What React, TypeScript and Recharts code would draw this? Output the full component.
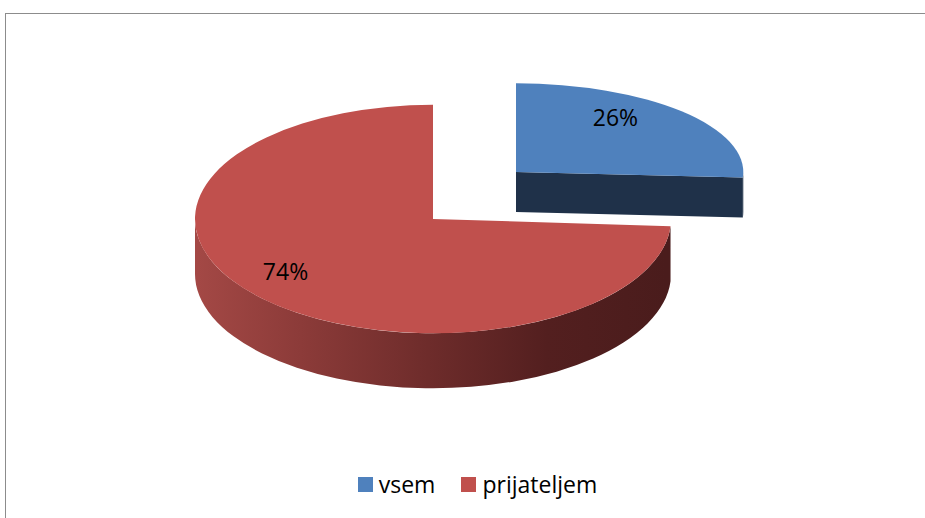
import React from 'react';
import { PieChart, Pie, Cell, Legend } from 'recharts';

// data
const categories = ['vsem', 'prijateljem'];
const shares = [26, 74];

const topColors = ['#4f81bd', '#c0504d'];

const data = categories.map((name, i) => ({ name, value: shares[i] }));

const TILT = 0.48; // ry / rx of the red disc
const DEPTH = 55;
const FONT = "'Open Sans', 'Liberation Sans', Arial, sans-serif";

const rad = (d: number) => (d * Math.PI) / 180;

// the exploded slice sits further back, so it is drawn a bit smaller
const geometry = (props: any) => {
  const { cx, cy, outerRadius, index } = props;
  if (index === 0) {
    const rx = outerRadius * 0.955;
    return { ox: cx + 83, oy: cy - 47, rx, ry: rx * 0.39, depth: 40 };
  }
  return { ox: cx, oy: cy, rx: outerRadius, ry: outerRadius * TILT, depth: DEPTH };
};

const Slice3D = (props: any) => {
  const { startAngle, endAngle, index, fill } = props;
  const { ox, oy, rx, ry, depth } = geometry(props);
  const a0 = Math.max(startAngle, endAngle);
  const a1 = Math.min(startAngle, endAngle);
  const pt = (d: number, dy = 0) => [ox + rx * Math.cos(rad(d)), oy - ry * Math.sin(rad(d)) + dy];
  const large = a0 - a1 > 180 ? 1 : 0;
  const [sx, sy] = pt(a0);
  const [ex, ey] = pt(a1);
  const top = `M${ox},${oy} L${sx},${sy} A${rx},${ry} 0 ${large} 1 ${ex},${ey} Z`;

  const wallFill = index === 0 ? '#1f3149' : 'url(#redWall)';
  const faces: string[] = [];

  // outer wall where it faces the viewer
  for (let k = -2; k <= 1; k++) {
    const lo = Math.max(a1, -180 + 360 * k);
    const hi = Math.min(a0, 360 * k);
    if (hi > lo) {
      const [hx, hy] = pt(hi);
      const [lx, ly] = pt(lo);
      faces.push(
        `M${hx},${hy} A${rx},${ry} 0 0 1 ${lx},${ly} L${lx},${ly + depth} A${rx},${ry} 0 0 0 ${hx},${hy + depth} Z`
      );
    }
  }
  // cut faces
  if (Math.cos(rad(a1)) > 0.01) {
    faces.push(`M${ox},${oy} L${ex},${ey} L${ex},${ey + depth} L${ox},${oy + depth} Z`);
  }
  if (Math.cos(rad(a0)) < -0.01) {
    faces.push(`M${ox},${oy} L${sx},${sy} L${sx},${sy + depth} L${ox},${oy + depth} Z`);
  }

  return (
    <g>
      {faces.map((d, i) => (
        <path key={i} d={d} fill={wallFill} stroke="none" />
      ))}
      <path d={top} fill={fill} stroke="none" />
    </g>
  );
};

const renderLabel = (props: any) => {
  const { midAngle, percent } = props;
  const { ox, oy, rx, ry } = geometry(props);
  const [kx, ky] = props.index === 0 ? [0.6, 0.9] : [0.85, 0.67];
  const x = ox + rx * kx * Math.cos(rad(midAngle));
  const y = oy - ry * ky * Math.sin(rad(midAngle));
  return (
    <text x={x} y={y} fill="#000" fontSize={23} textAnchor="middle" dominantBaseline="central" fontFamily={FONT}>
      {`${Math.round(percent * 100)}%`}
    </text>
  );
};

const renderLegend = (props: any) => {
  const payload = [...(props.payload || [])].sort(
    (a: any, b: any) => categories.indexOf(a.value) - categories.indexOf(b.value)
  );
  return (
    <div style={{ display: 'flex', justifyContent: 'center', alignItems: 'center', gap: 26 }}>
      {payload.map((entry: any) => (
        <div key={entry.value} style={{ display: 'flex', alignItems: 'center' }}>
          <span style={{ width: 15, height: 15, background: entry.color, marginRight: 6, display: 'inline-block' }} />
          <span style={{ fontSize: 23, color: '#000', lineHeight: '24px', fontFamily: FONT }}>{entry.value}</span>
        </div>
      ))}
    </div>
  );
};

export default function App() {
  return (
    <div style={{ position: 'absolute', left: 0, top: 0, width: 925, height: 518, overflow: 'hidden', background: '#fff',
      fontFamily: FONT }}>
      <div style={{ position: 'absolute', left: 5, top: 13, width: 940, height: 540, border: '1px solid #8c8c8c',
        boxSizing: 'border-box' }} />
      <div style={{ position: 'absolute', left: 0, top: 0 }}>
        <PieChart width={925} height={518}>
          <defs>
            <linearGradient id="redWall" gradientUnits="userSpaceOnUse" x1={190} y1={0} x2={666} y2={0}>
              <stop offset="0" stopColor="#a54946" />
              <stop offset="0.25" stopColor="#8a3a38" />
              <stop offset="0.5" stopColor="#6e2c2b" />
              <stop offset="0.75" stopColor="#531f1f" />
              <stop offset="1" stopColor="#4a1c1c" />
            </linearGradient>
          </defs>
          <Pie
            data={data}
            dataKey="value"
            nameKey="name"
            cx={428}
            cy={214}
            outerRadius={238}
            startAngle={90}
            endAngle={-270}
            shape={Slice3D}
            label={renderLabel}
            labelLine={false}
            stroke="none"
            isAnimationActive={false}
          >
            {data.map((d, i) => (
              <Cell key={d.name} fill={topColors[i]} />
            ))}
          </Pie>
          <Legend content={renderLegend} wrapperStyle={{ top: 472, left: 15, width: 925 }} />
        </PieChart>
      </div>
    </div>
  );
}
